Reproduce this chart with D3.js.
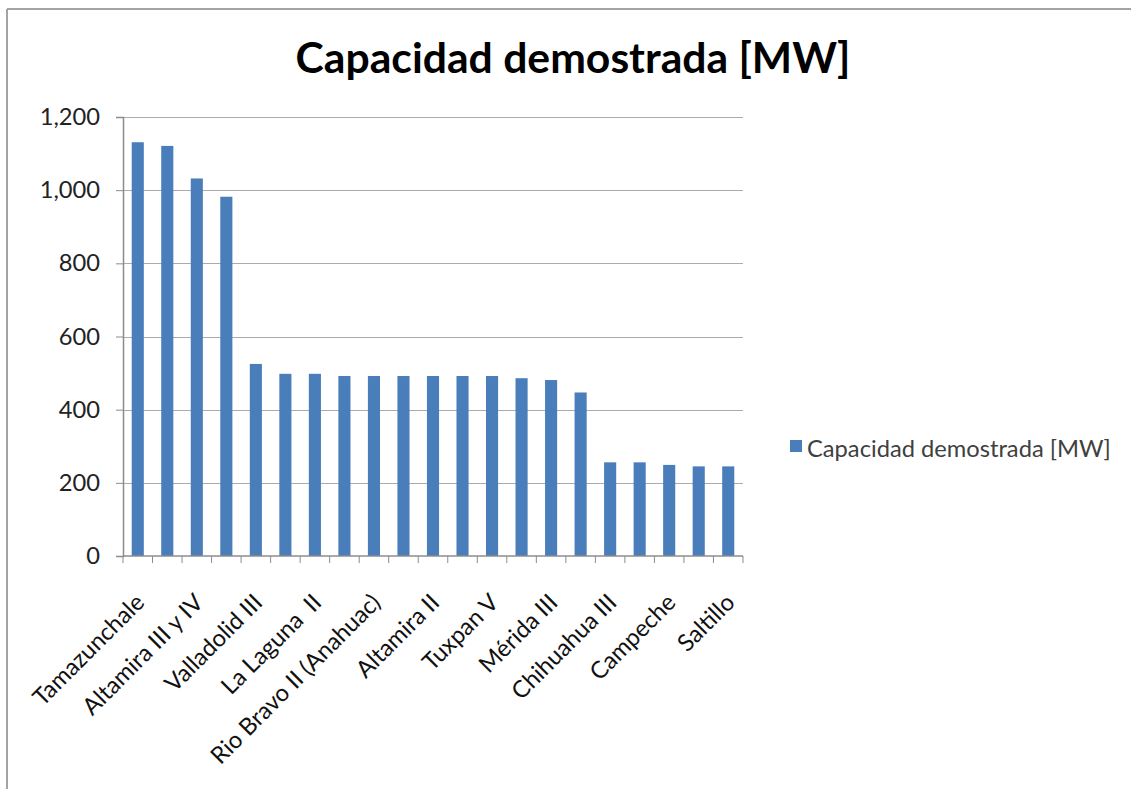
<!DOCTYPE html>
<html>
<head>
<meta charset="utf-8">
<script src="https://cdn.jsdelivr.net/npm/d3@7.9.0/dist/d3.min.js"></script>
<style>
  html, body { margin: 0; padding: 0; background: #fff; }
  svg { display: block; font-family: Lato, "Open Sans", sans-serif; }
  .xlabel { white-space: pre; }
</style>
</head>
<body>
<svg id="chart" width="1131" height="789"></svg>
<script>
// plant names (only every other one is drawn on the axis, like the original)
const plants = [
  'Tamazunchale', 'Altamira V', 'Altamira III y IV', 'Tuxpan III y IV',
  'Valladolid III', 'Río Bravo IV', 'La Laguna  II', 'Tuxpan II',
  'Rio Bravo II (Anahuac)', 'Río Bravo III', 'Altamira II', 'Bajío (El Sauz)',
  'Tuxpan V', 'Monterrey III', 'Mérida III', 'Rosarito',
  'Chihuahua III', 'Naco Nogales', 'Campeche', 'Hermosillo', 'Saltillo'
];
const capacity = [
  1131, 1121, 1032, 982, 525, 498, 498, 492, 492, 492, 492,
  492, 492, 486, 481, 447, 256, 256, 249, 245, 245
];
const yTicks = [0, 200, 400, 600, 800, 1000, 1200];
const seriesName = 'Capacidad demostrada [MW]';
const titleText = 'Capacidad demostrada [MW]';

const svg = d3.select('#chart');

// outer frame of the chart object (only top and left edges show)
svg.append('line').attr('x1', 7).attr('x2', 1131).attr('y1', 9).attr('y2', 9)
  .attr('stroke', '#a3a3a3').attr('stroke-width', 2);
svg.append('line').attr('x1', 7).attr('x2', 7).attr('y1', 9).attr('y2', 789)
  .attr('stroke', '#a3a3a3').attr('stroke-width', 2);

const plotLeft = 123, plotRight = 743, plotTop = 117, plotBottom = 556;

const x = d3.scaleBand()
  .domain(plants)
  .range([plotLeft, plotRight])
  .paddingInner(0.59)
  .paddingOuter(0.295);

const y = d3.scaleLinear().domain([0, 1200]).range([plotBottom, plotTop]);

// fit a text element to a width measured on the picture
function fitWidth(sel, target) {
  const w = sel.node().getComputedTextLength();
  const fs = parseFloat(sel.attr('font-size'));
  sel.attr('font-size', fs * target / w);
  return fs * target / w;
}

// title
const title = svg.append('text')
  .attr('x', 573).attr('y', 73)
  .attr('text-anchor', 'middle')
  .attr('font-weight', 'bold')
  .attr('font-size', 44)
  .attr('fill', '#000')
  .text(titleText);
fitWidth(title, 555);

// gridlines
svg.append('g')
  .selectAll('line')
  .data(yTicks.filter(d => d > 0))
  .join('line')
  .attr('x1', plotLeft).attr('x2', plotRight)
  .attr('y1', d => Math.round(y(d)) + 0.5)
  .attr('y2', d => Math.round(y(d)) + 0.5)
  .attr('stroke', '#ababab')
  .attr('stroke-width', 1.2);

// bars
svg.append('g')
  .selectAll('rect')
  .data(capacity)
  .join('rect')
  .attr('x', (d, i) => x(plants[i]))
  .attr('width', x.bandwidth())
  .attr('y', d => y(d))
  .attr('height', d => y(0) - y(d))
  .attr('fill', '#4a7ebb');

// legend (measured first so tick labels share its size)
svg.append('rect')
  .attr('x', 790).attr('y', 440).attr('width', 12).attr('height', 12)
  .attr('fill', '#4a7ebb');
const legendText = svg.append('text')
  .attr('x', 807).attr('y', 457)
  .attr('font-size', 24)
  .attr('fill', '#404040')
  .text(seriesName);
const tickSize = fitWidth(legendText, 304);

// y axis
const yAxis = svg.append('g')
  .attr('transform', `translate(${plotLeft},0)`)
  .call(d3.axisLeft(y).tickValues(yTicks).tickSize(7).tickPadding(16)
    .tickFormat(d3.format(',')));
yAxis.select('.domain').attr('stroke', '#8c8c8c').attr('stroke-width', 1.5);
yAxis.selectAll('.tick line').attr('stroke', '#8c8c8c');
yAxis.selectAll('.tick text')
  .attr('font-size', tickSize)
  .attr('font-family', 'Lato, sans-serif')
  .attr('fill', '#222');

// x axis: baseline, ticks between categories, rotated labels every other bar
svg.append('line')
  .attr('x1', plotLeft).attr('x2', plotRight)
  .attr('y1', plotBottom).attr('y2', plotBottom)
  .attr('stroke', '#8c8c8c').attr('stroke-width', 1.5);

svg.append('g')
  .selectAll('line')
  .data(d3.range(plants.length + 1))
  .join('line')
  .attr('x1', i => plotLeft + i * x.step())
  .attr('x2', i => plotLeft + i * x.step())
  .attr('y1', plotBottom).attr('y2', plotBottom + 7)
  .attr('stroke', '#8c8c8c');

svg.append('g')
  .selectAll('text')
  .data(plants.filter((d, i) => i % 2 === 0))
  .join('text')
  .attr('class', 'xlabel')
  .attr('transform', d => `translate(${x(d) + x.bandwidth() / 2 + 8},${plotBottom + 48}) rotate(-45)`)
  .attr('text-anchor', 'end')
  .attr('font-size', tickSize)
  .attr('fill', '#111')
  .text(d => d);
</script>
</body>
</html>
